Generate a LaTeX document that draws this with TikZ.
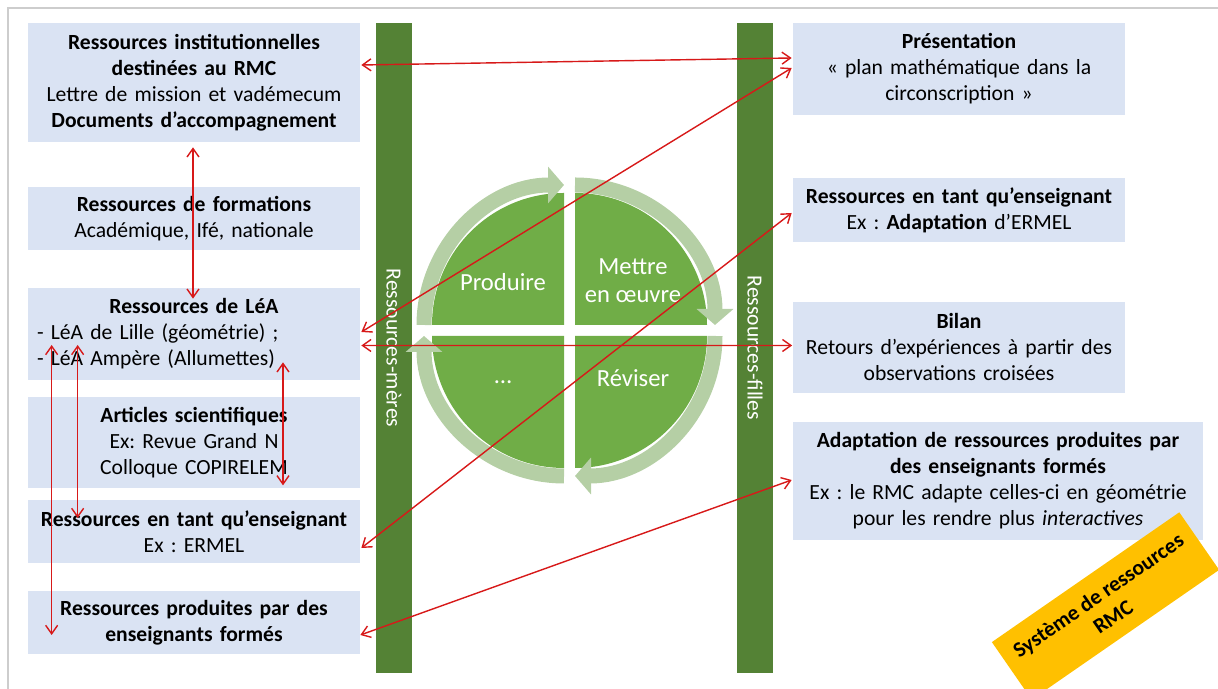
\documentclass[tikz,border=0pt]{standalone}
\usepackage{fontspec}
\setmainfont{Carlito}
\usetikzlibrary{arrows.meta,calc}
\frenchspacing

\definecolor{boxblue}{RGB}{218,227,243}
\definecolor{bargreen}{RGB}{84,130,53}
\definecolor{quadgreen}{RGB}{112,173,71}
\definecolor{ringgreen}{RGB}{181,207,165}
\definecolor{linkred}{RGB}{215,25,25}
\definecolor{tagyellow}{RGB}{255,192,0}
\definecolor{framegray}{RGB}{205,205,205}

\begin{document}
\begin{tikzpicture}[
  font=\fontsize{12.3}{14.8}\selectfont,
  box/.style={fill=boxblue,inner xsep=0.18cm,text width=6.28cm,
    minimum height=#1,align=center},
  box/.default=1.26cm,
  bar/.style={fill=bargreen,text=white,rotate=-90,minimum width=13.0cm,
    minimum height=0.72cm,inner sep=0pt},
  quad/.style={fill=quadgreen},
  ring/.style={ringgreen,line width=0.30cm,
    -{Triangle[width=0.72cm,length=0.32cm]}},
  phase/.style={text=white,font=\fontsize{14}{16}\selectfont,align=center},
  link/.style={{Straight Barb[length=0.17cm,width=0.24cm]}-{Straight Barb[length=0.17cm,width=0.24cm]},
    linkred,line width=0.8pt}
]
  \useasboundingbox (0,0) rectangle (24.36,13.78);
  \clip (0,0) rectangle (24.36,13.78);
  \draw[framegray,line width=0.03cm] (0.16,0) -- (0.16,13.62) -- (24.36,13.62);

  % left column
  \node[box=2.38cm] (inst) at (3.88,12.13)
    {\textbf{Ressources institutionnelles}\\\textbf{destinées au RMC}\\
     Lettre de mission et vadémecum\\\textbf{Documents d’accompagnement}};
  \node[box] (form) at (3.88,9.41)
    {\textbf{Ressources de formations}\\Académique, Ifé, nationale};
  \node[box=1.84cm,align=left] (lea) at (3.88,7.10)
    {\hfill\textbf{Ressources de LéA}\hfill\null\\
     - LéA de Lille (géométrie) ;\\- LéA Ampère (Allumettes)};
  \node[box=1.82cm] (art) at (3.88,4.93)
    {\textbf{Articles scientifiques}\\Ex: Revue Grand N\\Colloque COPIRELEM};
  \node[box] (ens) at (3.88,3.15)
    {\textbf{Ressources en tant qu’enseignant}\\Ex : ERMEL};
  \node[box] (prod) at (3.88,1.33)
    {\textbf{Ressources produites par des}\\\textbf{enseignants formés}};

  % right column
  \node[box=1.84cm] (pres) at (19.18,12.40)
    {\textbf{Présentation}\\« plan mathématique dans la\\circonscription »};
  \node[box=1.28cm] (ensf) at (19.18,9.58)
    {\textbf{Ressources en tant qu’enseignant}\\Ex : \textbf{Adaptation} d’ERMEL};
  \node[box=1.82cm] (bilan) at (19.18,6.83)
    {\textbf{Bilan}\\Retours d’expériences à partir des\\observations croisées};
  \node[box=2.36cm,text width=7.84cm] (adapt) at (19.96,4.16)
    {\textbf{Adaptation de ressources produites par}\\\textbf{des enseignants formés}\\
     Ex : le RMC adapte celles-ci en géométrie\\pour les rendre plus \textit{interactives}};

  % bars
  \node[bar] (meres) at (7.88,6.82) {Ressources-mères};
  \node[bar] (filles) at (15.10,6.82) {Ressources-filles};

  % cycle
  \coordinate (C) at (11.39,7.17);
  \foreach \s/\dx/\dy in {90/-0.11/0.11,0/0.11/0.11,-90/0.11/-0.11,180/-0.11/-0.11}{
    \fill[quad] ($(C)+(\dx,\dy)$) -- ++(\s:2.64)
      arc[start angle=\s,end angle=\s+90,radius=2.64] -- cycle;
    \draw[ring] ($(C)+(\dx,\dy)+(\s+90:2.80)$)
      arc[start angle=\s+90,end angle=\s,radius=2.80];
  }
  \node[phase] (produire) at (10.06,8.14) {Produire};
  \node[phase] (mettre) at (12.66,8.16) {Mettre\\en œuvre};
  \node[phase] (etc) at (10.06,6.14) {…};
  \node[phase] (reviser) at (12.66,6.22) {Réviser};

  \node[fill=tagyellow,rotate=34.7,minimum width=4.56cm,minimum height=1.40cm,
    align=center,font=\bfseries\fontsize{12.3}{14.8}\selectfont] (tag)
    at (22.11,1.66) {Système de ressources\\RMC};

  % links
  \draw[link] ($(inst.east)+(0.02,0.35)$) -- ($(pres.west)+(-0.02,0.22)$);
  \draw[link] ($(inst.south)+(-0.02,-0.10)$) -- ($(lea.north)+(-0.02,-0.22)$);
  \draw[link] ($(lea.east)+(0.02,0.04)$) -- ($(pres.west)+(-0.02,0.02)$);
  \draw[link] ($(lea.east)+(0.02,-0.23)$) -- ($(bilan.west)+(-0.01,0.04)$);
  \draw[link] ($(ens.east)+(0.02,-0.33)$) -- ($(ensf.west)+(-0.02,-0.06)$);
  \draw[link] ($(prod.east)+(0,-0.25)$) -- ($(adapt.west)+(-0.02,0.02)$);
  \draw[link] ($(lea.west)+(0.48,-0.22)$) -- ($(prod.west)+(0.48,-0.25)$);
  \draw[link] ($(lea.west)+(1.00,-0.22)$) -- ($(ens.west)+(1.00,0.27)$);
  \draw[link] ($(lea.south)+(1.78,0.36)$) -- ($(art.south)+(1.78,0.06)$);
\end{tikzpicture}
\end{document}
